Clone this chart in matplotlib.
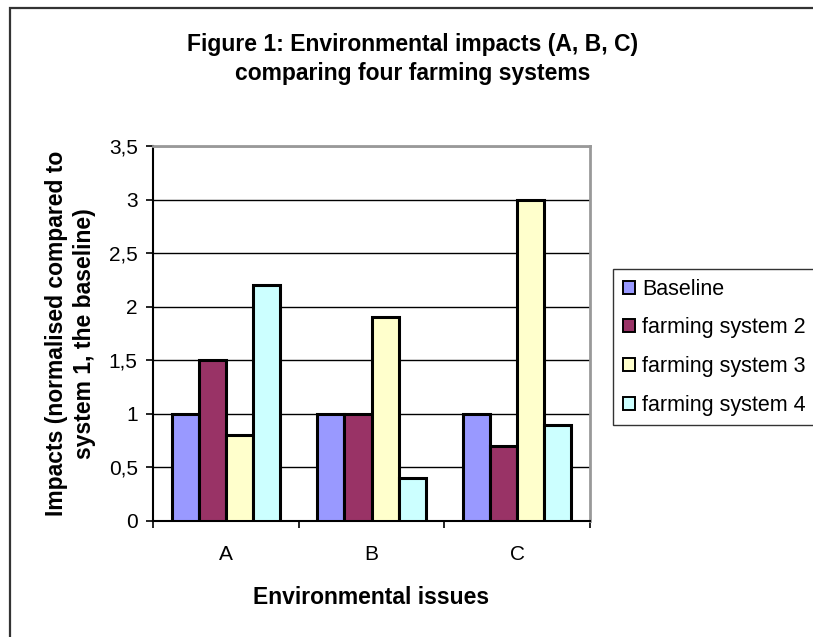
import matplotlib
matplotlib.use("Agg")
import matplotlib.pyplot as plt
import numpy as np
from matplotlib.patches import Rectangle

# data
categories = ["A", "B", "C"]
series_names = ["Baseline", "farming system 2", "farming system 3", "farming system 4"]
baseline = [1.0, 1.0, 1.0]
system2 = [1.5, 1.0, 0.7]
system3 = [0.8, 1.9, 3.0]
system4 = [2.2, 0.4, 0.9]
colors = ["#9999FF", "#993366", "#FFFFCC", "#CCFFFF"]
y_ticks = [0, 0.5, 1, 1.5, 2, 2.5, 3, 3.5]

plt.rcParams["font.family"] = ["Liberation Sans", "DejaVu Sans"]

fig = plt.figure(figsize=(8.13, 6.37), dpi=100)
ax = fig.add_axes([153 / 813, 1 - 521 / 637, 437 / 813, 375 / 637])

x = np.arange(len(categories))
width = 0.186
all_series = [baseline, system2, system3, system4]
for i, (vals, name, col) in enumerate(zip(all_series, series_names, colors)):
    offs = (i - 1.5) * width
    ax.bar(x + offs, vals, width, color=col, edgecolor="black",
           linewidth=2.2, label=name, zorder=3)

ax.set_xlim(-0.5, 2.5)
ax.set_ylim(0, 3.5)
ax.set_yticks(y_ticks)
ax.set_yticklabels([f"{v:g}".replace(".", ",") for v in y_ticks], fontsize=15)
ax.set_xticks(x)
ax.set_xticks([-0.5, 0.5, 1.5, 2.5], minor=True)
ax.set_xticklabels(categories, fontsize=15)
ax.tick_params(axis="x", which="major", length=0, pad=17)
ax.tick_params(axis="x", which="minor", length=5, width=1.2, direction="out")
ax.tick_params(axis="y", length=5, width=1.2, direction="out", pad=6)

ax.yaxis.grid(True, color="black", linewidth=1.0, zorder=0)
ax.set_axisbelow(True)
for s in ["top", "right"]:
    ax.spines[s].set_color("#999999")
    ax.spines[s].set_linewidth(2.0)
for s in ["left", "bottom"]:
    ax.spines[s].set_color("black")
    ax.spines[s].set_linewidth(1.5)

ax.set_xlabel("Environmental issues", fontsize=16.5, fontweight="bold", labelpad=16)
ax.set_ylabel("Impacts (normalised compared to\nsystem 1, the baseline)",
              fontsize=16.5, fontweight="bold", labelpad=9, linespacing=1.3)

fig.text(413 / 813, 1 - 59 / 637,
         "Figure 1: Environmental impacts (A, B, C)\ncomparing four farming systems",
         ha="center", va="center", fontsize=16.5, fontweight="bold", linespacing=1.3)

leg = fig.legend(loc="upper left", bbox_to_anchor=(613 / 813, 1 - 269 / 637),
                 fontsize=15.5, frameon=True, fancybox=False, handlelength=0.55,
                 handleheight=0.55, handletextpad=0.35, borderpad=0.45,
                 labelspacing=0.82, borderaxespad=0)
leg.get_frame().set_edgecolor("black")
leg.get_frame().set_linewidth(1.0)
for h in leg.legend_handles:
    h.set_linewidth(1.4)

# outer chart border
fig.patches.append(Rectangle((10 / 813, -0.05), 1.1, 1 - 8 / 637 + 0.05,
                             transform=fig.transFigure, fill=False,
                             edgecolor="#333333", linewidth=1.6))

fig.savefig("out.png", dpi=100)
